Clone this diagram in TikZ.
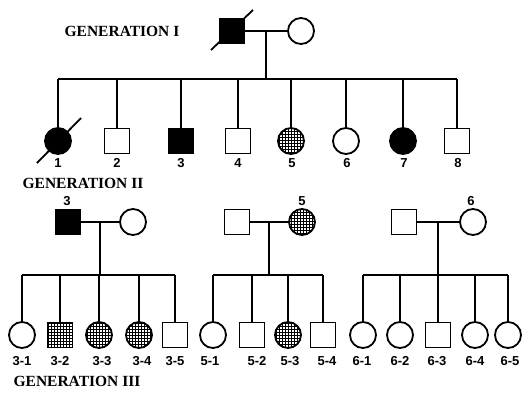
\documentclass[tikz,border=0pt]{standalone}
\usepackage{fontspec}
\setmainfont{Liberation Serif}
\setsansfont{Liberation Sans}
\usetikzlibrary{patterns}

\begin{document}
\begin{tikzpicture}[x=1pt,y=-1pt,line width=1.8pt,
  male/.style={draw,rectangle,minimum size=25pt,inner sep=0pt},
  female/.style={draw,circle,minimum size=26pt,inner sep=0pt},
  aff/.style={fill=black},
  carrier/.style={pattern=grid},
  num/.style={font=\fontsize{13}{13}\selectfont\sffamily\bfseries},
  gen/.style={font=\fontsize{15.5}{16}\selectfont\bfseries}]
\useasboundingbox (0,0) rectangle (528,392);
% generation I
\node[gen] (gI) at (122,31) {GENERATION I};
\node[male,aff] (i1) at (232,31) {};
\node[female] (i2) at (301,31) {};
\coordinate (m1) at (266,31);
\coordinate (s1) at (266,79);
\draw (i1) -- (i2);
\draw (m1) -- (s1);
\draw ([shift={(-21,19)}]i1.center) -- ([shift={(21,-21)}]i1.center);
% generation II
\node[female,aff] (c1) at (58,141) {};
\node[male] (c2) at (117,141) {};
\node[male,aff] (c3) at (181,141) {};
\node[male] (c4) at (238,141) {};
\node[female,carrier] (c5) at (291,141) {};
\node[female] (c6) at (346,141) {};
\node[female,aff] (c7) at (403,141) {};
\node[male] (c8) at (457,141) {};
\draw ([shift={(-21,22)}]c1.center) -- ([shift={(23,-23)}]c1.center);
\draw (c1 |- s1) -- (c8 |- s1);
\draw (c1 |- s1) -- (c1);
\draw (c2 |- s1) -- (c2);
\draw (c3 |- s1) -- (c3);
\draw (c4 |- s1) -- (c4);
\draw (c5 |- s1) -- (c5);
\draw (c6 |- s1) -- (c6);
\draw (c7 |- s1) -- (c7);
\draw (c8 |- s1) -- (c8);
\node[num] (n1) at (58,163) {1};
\node[num] (n2) at (117,163) {2};
\node[num] (n3) at (181,163) {3};
\node[num] (n4) at (238,163) {4};
\node[num] (n5) at (292,163) {5};
\node[num] (n6) at (347,163) {6};
\node[num] (n7) at (404,163) {7};
\node[num] (n8) at (458,163) {8};
\node[gen] (gII) at (83,183) {GENERATION II};
% families of II-3, II-5, II-6
\node[male,aff] (a1) at (68,222) {};
\node[female] (a2) at (133,222) {};
\node[num] (na) at (67,201) {3};
\coordinate (ma) at (100,222);
\coordinate (sa) at (100,275);
\draw (a1) -- (a2);
\draw (ma) -- (sa);
\node[male] (b1) at (237,222) {};
\node[female,carrier] (b2) at (302,222) {};
\node[num] (nb) at (302,201) {5};
\coordinate (mb) at (269,222);
\coordinate (sb) at (269,275);
\draw (b1) -- (b2);
\draw (mb) -- (sb);
\node[male] (d1) at (404,222) {};
\node[female] (d2) at (473,222) {};
\node[num] (nd) at (471,201) {6};
\coordinate (md) at (438,222);
\coordinate (sd) at (438,275);
\draw (d1) -- (d2);
\draw (md) -- (sd);
% generation III
\node[female] (a31) at (22,335) {};
\node[male,carrier] (a32) at (60,335) {};
\node[female,carrier] (a33) at (99,335) {};
\node[female,carrier] (a34) at (139,335) {};
\node[male] (a35) at (175,335) {};
\draw (a31 |- sa) -- (a35 |- sa);
\draw (a31 |- sa) -- (a31);
\draw (a32 |- sa) -- (a32);
\draw (a33 |- sa) -- (a33);
\draw (a34 |- sa) -- (a34);
\draw (a35 |- sa) -- (a35);
\node[female] (b51) at (213,335) {};
\node[male] (b52) at (252,335) {};
\node[female,carrier] (b53) at (288,335) {};
\node[male] (b54) at (323,335) {};
\draw (b51 |- sb) -- (b54 |- sb);
\draw (b51 |- sb) -- (b51);
\draw (b52 |- sb) -- (b52);
\draw (b53 |- sb) -- (b53);
\draw (b54 |- sb) -- (b54);
\node[female] (d61) at (363,335) {};
\node[female] (d62) at (400,335) {};
\node[male] (d63) at (438,335) {};
\node[female] (d64) at (475,335) {};
\node[female] (d65) at (508,335) {};
\draw (d61 |- sd) -- (d65 |- sd);
\draw (d61 |- sd) -- (d61);
\draw (d62 |- sd) -- (d62);
\draw (d63 |- sd) -- (d63);
\draw (d64 |- sd) -- (d64);
\draw (d65 |- sd) -- (d65);
\node[num] (l31) at (22,361) {3-1};
\node[num] (l32) at (60,361) {3-2};
\node[num] (l33) at (102,361) {3-3};
\node[num] (l34) at (142,361) {3-4};
\node[num] (l35) at (175,361) {3-5};
\node[num] (l51) at (210,361) {5-1};
\node[num] (l52) at (257,361) {5-2};
\node[num] (l53) at (290,361) {5-3};
\node[num] (l54) at (327,361) {5-4};
\node[num] (l61) at (362,361) {6-1};
\node[num] (l62) at (400,361) {6-2};
\node[num] (l63) at (437,361) {6-3};
\node[num] (l64) at (475,361) {6-4};
\node[num] (l65) at (510,361) {6-5};
\node[gen] (gIII) at (77,381) {GENERATION III};
\end{tikzpicture}
\end{document}
